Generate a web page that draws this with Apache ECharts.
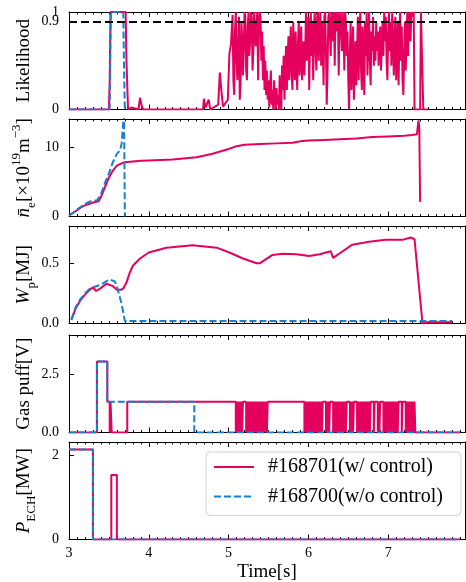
<!DOCTYPE html>
<html>
<head>
<meta charset="utf-8">
<script src="https://cdn.jsdelivr.net/npm/echarts@6/dist/echarts.min.js"></script>
<style>
html, body { margin: 0; padding: 0; background: #fff; }
#main { width: 466px; height: 582px; }
</style>
</head>
<body>
<div id="main"></div>
<script>
// series names
var nameRed = '#168701(w/ control)';
var nameBlue = '#168700(w/o control)';

// tick labels
var timeTicks = [3, 4, 5, 6, 7];
var likeTicks = [0, 0.9];
var likeTopTick = [1];
var neTicks = [0, 10];
var wpTicks = [0, 0.5];
var gasTicks = [0, 2.5];
var echTicks = [0, 2];
var likeThreshold = 0.9;

// likelihood [t, value]
var likeRed = [
  [3.0, 0], [3.5, 0], [3.51, 0.3], [3.52, 1], [3.71, 1], [3.72, 0.5], [3.74, 0], [3.78, 0.02], [3.8, 0],
  [3.87, 0], [3.89, 0.12], [3.91, 0.04], [3.93, 0], [4.68, 0], [4.69, 0.11], [4.71, 0.02], [4.75, 0.1],
  [4.77, 0], [4.87, 0.05], [4.89, 0.38], [4.91, 0.19], [4.93, 0.03], [4.99, 0.1], [5.01, 0.57],
  [5.03, 0.67],
  [5.05, 0.97], [5.06, 0.3], [5.07, 0.15], [5.08, 0.8], [5.09, 1], [5.10, 0.5], [5.11, 0.3], [5.12, 0.7],
  [5.13, 0.95], [5.14, 0.1], [5.15, 0.25], [5.16, 0.9], [5.17, 0.75], [5.18, 0.35], [5.19, 0.6], [5.20, 1],
  [5.21, 0.95], [5.22, 0.4], [5.23, 0.3], [5.24, 0.85], [5.25, 1], [5.26, 0.55], [5.27, 0.7], [5.28, 1],
  [5.29, 0.95], [5.30, 0.4], [5.31, 0.6], [5.32, 1], [5.33, 1], [5.34, 0.65], [5.35, 0.9], [5.36, 1],
  [5.37, 0.3], [5.38, 0.85], [5.39, 1], [5.40, 0.95], [5.41, 0.5], [5.42, 0.8], [5.43, 0.3], [5.44, 0.65],
  [5.45, 0.2], [5.46, 0.5], [5.47, 0.15], [5.48, 0.4], [5.49, 0.1], [5.50, 0.3], [5.51, 0.02], [5.52, 0.25],
  [5.53, 0.4], [5.54, 0.05], [5.55, 0.2], [5.56, 0], [5.57, 0.3], [5.58, 0.1], [5.59, 0], [5.60, 0.22],
  [5.61, 0.05], [5.62, 0.15], [5.63, 0], [5.64, 0.35], [5.65, 0.1], [5.66, 0], [5.67, 0.45], [5.68, 0.2],
  [5.69, 0.55], [5.70, 0.1], [5.71, 0.4], [5.72, 0.65], [5.73, 0.2], [5.74, 0.5], [5.75, 0.75], [5.76, 0.3],
  [5.77, 0.6], [5.78, 0.85], [5.79, 0.35], [5.80, 0.2], [5.81, 0.9], [5.82, 0.5], [5.83, 0.3], [5.84, 0.8],
  [5.85, 0.45], [5.86, 0.2], [5.87, 0.7], [5.88, 0.9], [5.89, 0.35], [5.90, 0.6], [5.91, 0.85], [5.92, 0.3],
  [5.93, 0.5], [5.94, 0.7], [5.95, 0.35], [5.96, 0.6], [5.97, 1], [5.98, 0.5], [5.99, 0.8], [6.00, 0.95],
  [6.01, 0.2], [6.02, 0.7], [6.03, 1], [6.04, 0.55], [6.05, 0.9], [6.06, 0.3], [6.07, 0.85], [6.08, 1],
  [6.09, 0.6], [6.10, 0.4], [6.11, 0.95], [6.12, 1], [6.13, 0.5], [6.14, 0.8], [6.15, 1], [6.16, 0.45],
  [6.17, 0.9], [6.18, 0.7], [6.19, 0.25], [6.20, 0.95], [6.21, 1], [6.22, 0.6], [6.23, 0.05], [6.24, 0.4],
  [6.25, 0.95], [6.26, 1], [6.27, 1], [6.28, 0.55], [6.29, 1], [6.30, 1], [6.31, 0.7], [6.32, 1],
  [6.33, 0.45], [6.34, 1], [6.35, 1], [6.36, 0.8], [6.37, 1], [6.38, 0.35], [6.39, 0.9], [6.40, 1],
  [6.41, 1], [6.42, 0.6], [6.43, 1], [6.44, 0.85], [6.45, 0.4], [6.46, 1], [6.47, 0.9], [6.48, 0.55],
  [6.49, 0.8], [6.50, 0.3], [6.51, 0], [6.52, 0.6], [6.53, 0.9], [6.54, 0.2], [6.55, 0.5], [6.56, 0.85],
  [6.57, 0.1], [6.58, 0.45], [6.59, 0.7], [6.60, 0.25], [6.61, 0.6], [6.62, 0.95], [6.63, 0.3], [6.64, 0.75],
  [6.65, 1], [6.66, 0.4], [6.67, 0.2], [6.68, 0.85], [6.69, 0.6], [6.70, 0.15], [6.71, 0.9], [6.72, 0.55],
  [6.73, 1], [6.74, 0.35], [6.75, 0.7], [6.76, 1], [6.77, 0.5], [6.78, 0.25], [6.79, 0.8], [6.80, 0.6],
  [6.81, 0.95], [6.82, 0.45], [6.83, 0.75], [6.84, 0.5], [6.85, 0.9], [6.86, 0.6], [6.87, 0.8], [6.88, 0.45],
  [6.89, 0.7], [6.90, 0.85], [6.91, 0.4], [6.92, 0.65], [6.93, 0.9], [6.94, 0.55], [6.95, 1], [6.96, 0.7],
  [6.97, 0.95], [6.98, 0.5], [6.99, 0.3], [7.00, 0.8], [7.01, 1], [7.02, 0.6], [7.03, 0.9], [7.04, 0.45],
  [7.05, 1], [7.06, 0.8], [7.07, 0.35], [7.08, 0.7], [7.09, 0.95], [7.10, 0.3], [7.11, 0.55], [7.12, 0.9],
  [7.13, 0.25], [7.14, 0.75], [7.15, 1], [7.16, 0.5], [7.17, 0.85], [7.18, 0.3], [7.19, 0.15], [7.20, 0.6],
  [7.21, 0.9], [7.22, 0.4], [7.23, 0.75], [7.24, 1], [7.25, 0.55], [7.26, 0.95], [7.27, 1], [7.28, 0.7],
  [7.29, 1], [7.30, 1], [7.31, 0.95], [7.32, 1], [7.33, 0],
  [7.40, 0.0], [7.41, 1.0], [7.43, 1.0], [7.44, 0.0], [7.5, 0.0]
];
var likeBlue = [
  [3.0, 0], [3.51, 0], [3.525, 1], [3.68, 1], [3.69, 0.4], [3.7, 0]
];

// line averaged density [t, 1e19 m^-3]
var neRed = [
  [3.0, 0.15], [3.05, 0.5], [3.1, 0.9], [3.15, 1.3], [3.2, 1.6], [3.25, 1.8], [3.3, 2.0], [3.37, 2.2],
  [3.4, 2.8], [3.45, 4.2], [3.5, 5.6], [3.55, 6.6], [3.6, 7.3], [3.65, 7.6], [3.7, 7.8], [3.8, 7.9],
  [3.9, 8.0], [4.0, 8.05], [4.3, 8.2], [4.6, 8.5], [4.8, 9.0], [5.0, 9.7], [5.1, 10.1], [5.2, 10.3],
  [5.4, 10.4], [5.6, 10.5], [5.8, 10.6], [5.9, 10.8], [6.0, 10.9], [6.2, 11.0], [6.4, 11.1],
  [6.6, 11.2], [6.8, 11.4], [7.0, 11.5], [7.2, 11.6], [7.3, 11.7], [7.36, 11.8], [7.38, 13.8],
  [7.39, 12.5], [7.4, 2.1]
];
var neBlue = [
  [3.0, 0.15], [3.05, 0.5], [3.1, 1.0], [3.15, 1.4], [3.2, 1.8], [3.25, 2.1], [3.3, 2.3], [3.35, 2.3],
  [3.37, 2.4], [3.4, 3.2], [3.45, 4.8], [3.5, 6.2], [3.55, 7.8], [3.6, 9.0], [3.64, 9.5], [3.66, 10.5],
  [3.68, 13.5], [3.69, 14.5], [3.7, 0]
];

// stored energy [t, MJ]
var wpRed = [
  [3.03, 0.03], [3.08, 0.12], [3.14, 0.19], [3.2, 0.24], [3.26, 0.28], [3.3, 0.30], [3.34, 0.27],
  [3.39, 0.29], [3.47, 0.33], [3.55, 0.31], [3.6, 0.28], [3.65, 0.28], [3.68, 0.29], [3.72, 0.34],
  [3.76, 0.42], [3.8, 0.48], [3.89, 0.54], [4.0, 0.59], [4.22, 0.63], [4.55, 0.65], [4.85, 0.63],
  [5.01, 0.59], [5.18, 0.54], [5.35, 0.5], [5.39, 0.5], [5.55, 0.57], [5.68, 0.58], [5.85, 0.575],
  [6.01, 0.56], [6.14, 0.575], [6.28, 0.6], [6.31, 0.545], [6.43, 0.6], [6.55, 0.655], [6.76, 0.68],
  [6.97, 0.695], [7.18, 0.695], [7.28, 0.715], [7.33, 0.7], [7.43, 0.0], [7.5, 0.01], [7.8, 0.01]
];
var wpBlue = [
  [3.03, 0.03], [3.08, 0.13], [3.14, 0.2], [3.2, 0.25], [3.26, 0.29], [3.39, 0.32], [3.51, 0.365],
  [3.575, 0.35], [3.6, 0.31], [3.66, 0.16], [3.7, 0.02], [7.8, 0.02]
];

// gas puff command [t, V] (step)
var gasRed = [
  [3.0, 0], [3.35, 3.06], [3.48, 1.33], [3.51, 0], [3.52, 1.33], [3.535, 0], [3.73, 1.33],
  [5.09, 0], [5.10, 1.33], [5.11, 0], [5.12, 1.33], [5.13, 0], [5.14, 1.33], [5.15, 0], [5.16, 1.33],
  [5.17, 0], [5.18, 1.33],
  [5.22, 0], [5.23, 1.33], [5.24, 0], [5.25, 1.33], [5.26, 0], [5.27, 1.33], [5.28, 0], [5.29, 1.33],
  [5.30, 0], [5.31, 1.33], [5.32, 0], [5.33, 1.33], [5.34, 0], [5.35, 1.33], [5.36, 0], [5.37, 1.33],
  [5.38, 0], [5.39, 1.33], [5.40, 0], [5.41, 1.33], [5.42, 0], [5.43, 1.33], [5.44, 0], [5.45, 1.33],
  [5.46, 0], [5.47, 1.33], [5.48, 0], [5.49, 1.33],
  [5.95, 0], [5.96, 1.33], [5.97, 0], [5.98, 1.33], [5.99, 0], [6.00, 1.33], [6.01, 0], [6.02, 1.33],
  [6.03, 0], [6.04, 1.33], [6.05, 0], [6.06, 1.33], [6.07, 0], [6.08, 1.33], [6.09, 0], [6.10, 1.33],
  [6.11, 0], [6.12, 1.33], [6.13, 0], [6.14, 1.33], [6.15, 0], [6.16, 1.33], [6.17, 0], [6.18, 1.33],
  [6.22, 0], [6.23, 1.33], [6.24, 0], [6.25, 1.33], [6.26, 0], [6.27, 1.33],
  [6.31, 0], [6.32, 1.33], [6.33, 0], [6.34, 1.33], [6.35, 0], [6.36, 1.33], [6.37, 0], [6.38, 1.33],
  [6.39, 0], [6.40, 1.33], [6.41, 0], [6.42, 1.33], [6.43, 0], [6.44, 1.33], [6.45, 0], [6.46, 1.33],
  [6.47, 0], [6.48, 1.33],
  [6.52, 0], [6.53, 1.33], [6.54, 0], [6.55, 1.33], [6.56, 0], [6.57, 1.33],
  [6.61, 0], [6.62, 1.33], [6.63, 0], [6.64, 1.33], [6.65, 0], [6.66, 1.33], [6.67, 0], [6.68, 1.33],
  [6.69, 0], [6.70, 1.33], [6.71, 0], [6.72, 1.33], [6.73, 0], [6.74, 1.33], [6.75, 0], [6.76, 1.33],
  [6.77, 0], [6.78, 1.33],
  [6.82, 0], [6.83, 1.33],
  [6.87, 0], [6.88, 1.33], [6.89, 0], [6.90, 1.33],
  [6.94, 0], [6.95, 1.33], [6.96, 0], [6.97, 1.33], [6.98, 0], [6.99, 1.33], [7.00, 0], [7.01, 1.33],
  [7.02, 0], [7.03, 1.33], [7.04, 0], [7.05, 1.33], [7.06, 0], [7.07, 1.33], [7.08, 0], [7.09, 1.33],
  [7.10, 0], [7.11, 1.33], [7.12, 0], [7.13, 1.33],
  [7.17, 0], [7.18, 1.33],
  [7.22, 0], [7.23, 1.33], [7.24, 0], [7.25, 1.33], [7.26, 0], [7.27, 1.33], [7.28, 0], [7.29, 1.33],
  [7.30, 0], [7.31, 1.33], [7.32, 0], [7.33, 1.33], [7.34, 0], [7.9, 0]
];
var gasBlue = [
  [3.0, 0], [3.35, 3.06], [3.48, 1.33], [4.57, 0], [7.9, 0]
];

// ECH power [t, MW] (step)
var echRed = [[3.0, 2.13], [3.3, 0], [3.53, 1.53], [3.6, 0], [7.9, 0]];
var echBlue = [[3.0, 2.13], [3.3, 0], [7.9, 0]];

var red = '#e4005c';
var blue = '#1580cc';
var font = 'Liberation Serif';

var gridTops = [12, 119, 226, 335, 442];
var gridH = 97.5;
var tMin = 3, tMax = 7.9625;

var minorTicks = [];
for (var k = 31; k < 80; k++) {
  if (k % 10 !== 0) minorTicks.push(k / 10);
}

var rich = {
  r: { fontSize: 19, fontFamily: font, color: '#000', lineHeight: 28 },
  it: { fontSize: 19, fontFamily: font, fontStyle: 'italic', color: '#000', lineHeight: 28 },
  sub: { fontSize: 13, fontFamily: font, color: '#000', lineHeight: 18, verticalAlign: 'bottom' },
  sup: { fontSize: 13, fontFamily: font, color: '#000', lineHeight: 14, verticalAlign: 'top' }
};

var panels = [
  { name: '{r|Likelihood}', max: 1, ticks: likeTicks, extraTicks: likeTopTick, fmt: function (v) { return String(v); },
    red: likeRed, blue: likeBlue, step: false },
  { name: '{it|n̄}{sub|e}{r|[×10}{sup|19}{r|m}{sup|−3}{r|]}', max: 14, ticks: neTicks, fmt: function (v) { return String(v); },
    red: neRed, blue: neBlue, step: false },
  { name: '{it|W}{sub|p}{r|[MJ]}', max: 0.81, ticks: wpTicks, fmt: function (v) { return v.toFixed(1); },
    red: wpRed, blue: wpBlue, step: false },
  { name: '{r|Gas puff[V]}', max: 4.2, ticks: gasTicks, fmt: function (v) { return v.toFixed(1); },
    red: gasRed, blue: gasBlue, step: 'end' },
  { name: '{it|P}{sub|ECH}{r|[MW]}', max: 2.31, ticks: echTicks, fmt: function (v) { return String(v); },
    red: echRed, blue: echBlue, step: 'end' }
];

function tickLabel(values, fmt) {
  return { customValues: values, formatter: fmt, margin: 10, hideOverlap: false,
    showMinLabel: true, showMaxLabel: true, fontFamily: font, fontSize: 14, color: '#000' };
}

var grids = [], xAxes = [], yAxes = [], series = [];
panels.forEach(function (p, i) {
  var last = i === panels.length - 1;
  grids.push({ left: 69, right: 1, top: gridTops[i], height: gridH, outerBoundsMode: 'none', containLabel: false });
  var xi = xAxes.length;
  ['bottom', 'top'].forEach(function (pos) {
    xAxes.push({
      type: 'value', gridIndex: i, position: pos, min: tMin, max: tMax,
      axisLine: { show: true, onZero: false, lineStyle: { color: '#000', width: 1 } },
      axisTick: { show: true, inside: true, length: 5, customValues: timeTicks, lineStyle: { color: '#000' } },
      axisLabel: { show: last && pos === 'bottom', customValues: timeTicks, margin: 7,
        fontFamily: font, fontSize: 14, color: '#000' },
      splitLine: { show: false },
      name: last && pos === 'bottom' ? 'Time[s]' : '', nameLocation: 'middle', nameGap: 23,
      nameMoveOverlap: false,
      nameTextStyle: { fontFamily: font, fontSize: 19, color: '#000' }
    });
    xAxes.push({
      type: 'value', gridIndex: i, position: pos, min: tMin, max: tMax,
      axisLine: { show: false, onZero: false },
      axisTick: { show: true, inside: true, length: 2.5, customValues: minorTicks, lineStyle: { color: '#000' } },
      axisLabel: { show: false }, splitLine: { show: false }
    });
  });
  var yi = yAxes.length;
  yAxes.push({
    type: 'value', gridIndex: i, position: 'left', min: 0, max: p.max,
    axisLine: { show: true, onZero: false, lineStyle: { color: '#000', width: 1 } },
    axisTick: { show: true, inside: true, length: 5, customValues: p.ticks, lineStyle: { color: '#000' } },
    axisLabel: tickLabel(p.ticks, p.fmt),
    splitLine: { show: false },
    name: p.name, nameLocation: 'middle', nameGap: 31, nameMoveOverlap: false,
    nameTextStyle: { rich: rich }
  });
  yAxes.push({
    type: 'value', gridIndex: i, position: 'right', min: 0, max: p.max,
    axisLine: { show: true, onZero: false, lineStyle: { color: '#000', width: 1 } },
    axisTick: { show: false }, axisLabel: { show: false }, splitLine: { show: false }
  });
  if (p.extraTicks) {
    // separate axis so the overlapping top label is not dropped
    yAxes.push({
      type: 'value', gridIndex: i, position: 'left', min: 0, max: p.max,
      axisLine: { show: false, onZero: false },
      axisTick: { show: true, inside: true, length: 5, customValues: p.extraTicks, lineStyle: { color: '#000' } },
      axisLabel: tickLabel(p.extraTicks, p.fmt),
      splitLine: { show: false }
    });
  }
  series.push({
    name: nameRed, type: 'line', xAxisIndex: xi, yAxisIndex: yi, data: p.red, step: p.step,
    symbol: 'none', showSymbol: false, clip: true,
    lineStyle: { color: red, width: 2 }, itemStyle: { color: red, opacity: 0 }
  });
  var blueSeries = {
    name: nameBlue, type: 'line', xAxisIndex: xi, yAxisIndex: yi, data: p.blue, step: p.step,
    symbol: 'none', showSymbol: false, clip: true,
    lineStyle: { color: blue, width: 2, type: [7, 3] }, itemStyle: { color: blue, opacity: 0 }
  };
  if (i === 0) {
    blueSeries.markLine = {
      silent: true, symbol: 'none', label: { show: false }, z: 10,
      lineStyle: { color: '#000', width: 2, type: [8, 4] },
      data: [{ yAxis: likeThreshold }]
    };
  }
  series.push(blueSeries);
});

var myChart = echarts.init(document.getElementById('main'), null, { renderer: 'canvas' });
myChart.setOption({
  animation: false,
  backgroundColor: '#fff',
  grid: grids,
  xAxis: xAxes,
  yAxis: yAxes,
  legend: {
    data: [nameRed, nameBlue],
    orient: 'vertical',
    left: 206, top: 452,
    padding: [5, 18, 9, 7],
    itemWidth: 40, itemHeight: 14, itemGap: 9.4,
    itemStyle: { opacity: 0 },
    backgroundColor: 'rgba(255,255,255,0.85)',
    borderColor: '#d0d0d0', borderWidth: 1, borderRadius: 4,
    textStyle: { fontFamily: font, fontSize: 20, color: '#000', lineHeight: 20, padding: [0, 0, 0, 9] }
  },
  series: series
});
</script>
</body>
</html>
